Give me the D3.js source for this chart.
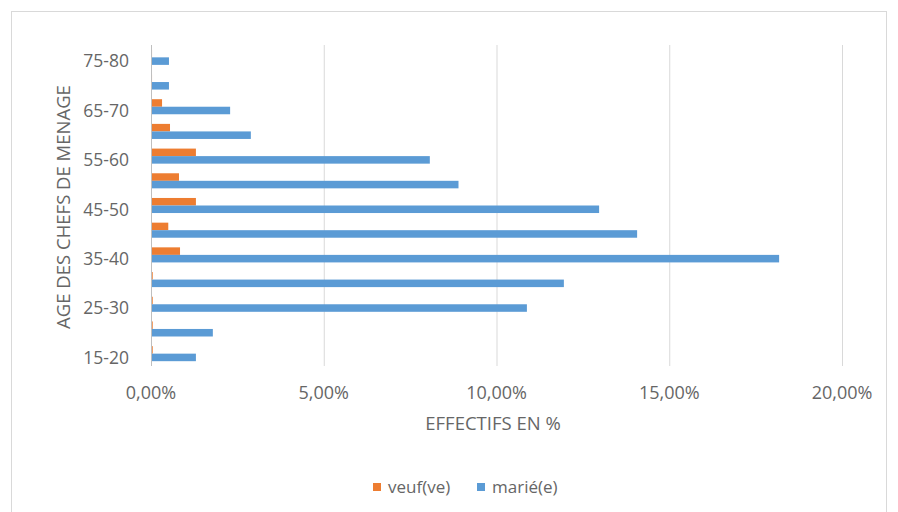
<!DOCTYPE html>
<html lang="fr">
<head>
<meta charset="utf-8">
<title>Age des chefs de ménage</title>
<script src="https://cdn.jsdelivr.net/npm/d3@7"></script>
<style>
  body { margin: 0; background: #fff; }
  text { font-family: "Open Sans", sans-serif; fill: #666; }
  .grid line { stroke: #d9d9d9; stroke-width: 1; }
</style>
</head>
<body>
<div id="chart"></div>
<script>
// data (percent)
var ages = ["15-20","20-25","25-30","30-35","35-40","40-45","45-50","50-55","55-60","60-65","65-70","70-75","75-80"];
var veuf = [0.05, 0.05, 0.05, 0.05, 0.84, 0.5, 1.3, 0.81, 1.3, 0.55, 0.32, 0.03, 0.03];
var marie = [1.3, 1.79, 10.88, 11.95, 18.18, 14.07, 12.97, 8.9, 8.07, 2.89, 2.29, 0.52, 0.52];
var xTicks = [0, 5, 10, 15, 20];
var seriesNames = ["veuf(ve)", "marié(e)"];
var colors = ["#ED7D31", "#5B9BD5"];

var width = 898, height = 512;
var margin = {left: 151, right: 56, top: 45, bottom: 146};

var svg = d3.select("#chart").append("svg")
    .attr("width", width)
    .attr("height", height);

// chart frame
svg.append("rect")
    .attr("x", 11.5).attr("y", 11.5)
    .attr("width", 875).attr("height", 510)
    .attr("fill", "none").attr("stroke", "#d9d9d9");

var x = d3.scaleLinear().domain([0, 20]).range([margin.left, width - margin.right]);
var y = d3.scaleBand().domain(ages.slice().reverse())
    .range([margin.top, height - margin.bottom])
    .paddingInner(0.39).paddingOuter(0.195);
var sub = d3.scaleBand().domain([0, 1]).range([0, y.bandwidth()]);

// gridlines
svg.append("g").attr("class", "grid")
  .selectAll("line")
  .data(xTicks.slice(1))
  .enter().append("line")
    .attr("x1", d => x(d) + 0.5).attr("x2", d => x(d) + 0.5)
    .attr("y1", margin.top).attr("y2", height - margin.bottom);

// bars
var rows = ages.map((a, i) => ({age: a, vals: [veuf[i], marie[i]]}));
var groups = svg.append("g").selectAll("g")
    .data(rows)
  .enter().append("g")
    .attr("transform", d => "translate(0," + y(d.age) + ")");

groups.selectAll("rect")
    .data(d => d.vals.map((v, k) => ({v: v, k: k})))
  .enter().append("rect")
    .attr("x", x(0))
    .attr("y", d => sub(d.k))
    .attr("width", d => x(d.v) - x(0))
    .attr("height", sub.bandwidth())
    .attr("fill", d => colors[d.k]);

// vertical axis line
svg.append("line")
    .attr("x1", x(0) + 0.5).attr("x2", x(0) + 0.5)
    .attr("y1", margin.top).attr("y2", height - margin.bottom)
    .attr("stroke", "#bfbfbf");

// category labels (every other)
svg.append("g").selectAll("text")
    .data(ages.filter((a, i) => i % 2 === 0))
  .enter().append("text")
    .attr("x", 129)
    .attr("y", d => y(d) + y.bandwidth() / 2 + 4)
    .attr("dy", "0.35em")
    .attr("text-anchor", "end")
    .style("font-size", "17.5px")
    .text(d => d);

// x tick labels
var fmt = d => d3.format(".2f")(d).replace(".", ",") + "%";
svg.append("g").selectAll("text")
    .data(xTicks)
  .enter().append("text")
    .attr("x", d => x(d))
    .attr("y", 393)
    .attr("dy", "0.35em")
    .attr("text-anchor", "middle")
    .style("font-size", "18px")
    .text(fmt);

// axis titles
svg.append("text")
    .attr("x", 493).attr("y", 424)
    .attr("dy", "0.35em")
    .attr("text-anchor", "middle")
    .style("font-size", "18.5px")
    .text("EFFECTIFS EN %");

svg.append("text")
    .attr("transform", "translate(70,207) rotate(-90)")
    .attr("text-anchor", "middle")
    .style("font-size", "18.5px")
    .text("AGE DES CHEFS DE MENAGE");

// legend
var legend = svg.append("g").attr("transform", "translate(373,487)");
var lx = [0, 104];
seriesNames.forEach(function(name, k) {
  legend.append("rect")
      .attr("x", lx[k]).attr("y", -4)
      .attr("width", 8).attr("height", 8)
      .attr("fill", colors[k]);
  legend.append("text")
      .attr("x", lx[k] + 15).attr("y", 0)
      .attr("dy", "0.35em")
      .style("font-size", "17px")
      .text(name);
});
</script>
</body>
</html>
